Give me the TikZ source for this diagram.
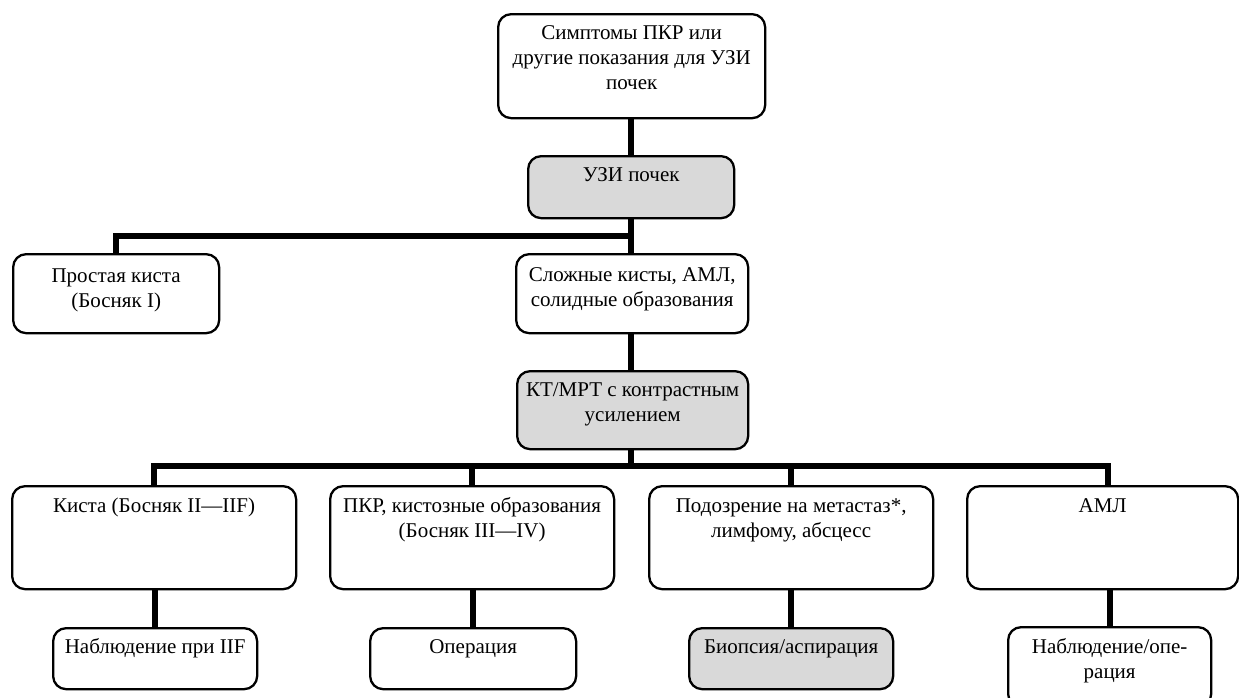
\documentclass[tikz,border=0pt]{standalone}
\usepackage{fontspec}
\setmainfont{Liberation Serif}
\definecolor{boxgray}{HTML}{D9D9D9}
\newcommand{\bt}[4]{\parbox[c][#2pt][t]{#1pt}{\centering\rule{0pt}{#3pt}#4}}
\begin{document}
\begin{tikzpicture}[x=1pt,y=-1pt,
  box/.style={draw, line width=2.3pt, rounded corners=13pt, fill=white, inner sep=0pt, anchor=north west, font=\fontsize{21}{25}\selectfont},
  graybox/.style={box, fill=boxgray},
  conn/.style={line width=6pt, line join=miter}]
\useasboundingbox (0,0) rectangle (1239,697);
% level 0-1
\node[box] (top) at (497,13) {\bt{267}{104}{25}{Симптомы ПКР или\\другие показания для УЗИ\\почек}};
\node[graybox] (uzi) at (527,155) {\bt{206}{62}{25}{УЗИ почек}};
% level 2
\node[box] (prost) at (12,253) {\bt{206}{79}{28}{Простая киста\\(Босняк I)}};
\node[box] (slozh) at (515,253) {\bt{232}{79}{27}{Сложные кисты, АМЛ,\\солидные образования}};
\node[graybox] (kt) at (516,370) {\bt{231}{78}{25}{КТ/МРТ с контрастным\\усилением}};
% level 3
\node[box] (kista) at (11,485) {\bt{284}{103}{26}{Киста (Босняк II—IIF)}};
\node[box] (pkr) at (329,485) {\bt{284}{103}{26}{ПКР, кистозные образования\\(Босняк III—IV)}};
\node[box] (podoz) at (648,485) {\bt{284}{103}{26}{Подозрение на метастаз*,\\лимфому, абсцесс}};
\node[box] (aml) at (966,485) {\bt{271}{103}{26}{АМЛ}};
% level 4
\node[box] (nab1) at (52,627) {\bt{204}{61}{25}{Наблюдение при IIF}};
\node[box] (oper) at (369,627) {\bt{206}{61}{25}{Операция}};
\node[graybox] (biop) at (688,627) {\bt{204}{61}{25}{Биопсия/аспирация}};
\node[box] (nab2) at (1007,626) {\bt{203}{80}{26}{Наблюдение/опе-\\рация}};
% junctions
\coordinate (j1) at (631,236);
\coordinate (j2) at (631,466);
\coordinate (amltop) at (1108,485);
% connectors
\draw[conn] (j1 |- top.south) -- (j1 |- uzi.north);
\draw[conn] (j1 |- uzi.south) -- (j1 |- slozh.north);
\draw[conn] (prost.north) |- (j1);
\draw[conn] (j1 |- slozh.south) -- (j1 |- kt.north);
\draw[conn] (j2 |- kt.south) -- (j2);
\draw[conn] (kista.north) |- (j2) -| (amltop);
\draw[conn] (pkr.north) -- (pkr.north |- j2);
\draw[conn] (podoz.north) -- (podoz.north |- j2);
\draw[conn] (nab1.north |- kista.south) -- (nab1.north);
\draw[conn] (oper.north |- pkr.south) -- (oper.north);
\draw[conn] (biop.north |- podoz.south) -- (biop.north);
\draw[conn] (nab2.north |- aml.south) -- (nab2.north);
\end{tikzpicture}
\end{document}
